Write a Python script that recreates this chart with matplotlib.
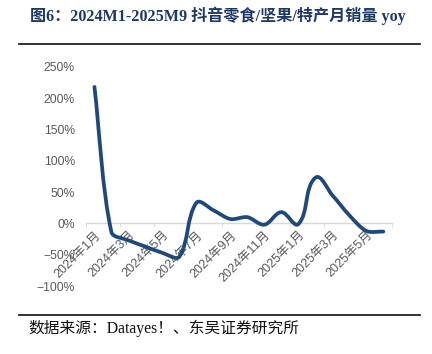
import numpy as np
import matplotlib.pyplot as plt
from matplotlib.path import Path
from matplotlib.patches import PathPatch
from matplotlib.lines import Line2D

# 数据：抖音零食/坚果/特产月销量同比（%）
months = ['2024年1月', '2024年2月', '2024年3月', '2024年4月', '2024年5月', '2024年6月',
          '2024年7月', '2024年8月', '2024年9月', '2024年10月', '2024年11月', '2024年12月',
          '2025年1月', '2025年2月', '2025年3月', '2025年4月', '2025年5月', '2025年6月']
yoy = [218, -14, -27, -37, -47, -53, 33, 21, 7, 10, -2, 18, -1, 73, 45, 13, -12, -13]
yticks = [-100, -50, 0, 50, 100, 150, 200, 250]

cjk = ['Liberation Sans', 'Noto Sans CJK SC']
line_color = '#1F497D'
label_color = '#595959'

fig = plt.figure(figsize=(4.32, 3.54), dpi=100)
ax = fig.add_axes([0.199, 0.192, 0.708, 0.619])
ax.set_xlim(-0.5, len(yoy) - 0.5)
ax.set_ylim(-100, 250)

# 平滑曲线（近似 Excel 平滑线）：在像素空间按相邻线段长度确定贝塞尔控制点
pts = ax.transData.transform(np.column_stack([np.arange(len(yoy)), yoy]))
n = len(pts)
k = 0.3
verts = [pts[0]]
codes = [Path.MOVETO]
for i in range(n - 1):
    p1, p2 = pts[i], pts[i + 1]
    seg = np.linalg.norm(p2 - p1)
    d1 = pts[min(i + 1, n - 1)] - pts[max(i - 1, 0)]
    d2 = pts[min(i + 2, n - 1)] - pts[i]
    c1 = p1 + d1 / np.linalg.norm(d1) * seg * k
    c2 = p2 - d2 / np.linalg.norm(d2) * seg * k
    verts += [c1, c2, p2]
    codes += [Path.CURVE4] * 3
verts = ax.transData.inverted().transform(np.array(verts))
ax.add_patch(PathPatch(Path(verts, codes), facecolor='none', edgecolor=line_color,
                       linewidth=2.7, capstyle='round', joinstyle='round', zorder=3))

# 坐标轴样式
for s in ['top', 'right', 'left']:
    ax.spines[s].set_visible(False)
ax.spines['bottom'].set_position(('data', 0))
ax.spines['bottom'].set_color('#D9D9D9')
ax.spines['bottom'].set_linewidth(1.0)

ax.set_xticks(np.arange(-0.5, len(yoy), 2), minor=True)
ax.set_xticks(np.arange(len(yoy))[::2])
ax.set_xticklabels(months[::2], rotation=45, ha='right', va='top',
                   rotation_mode='anchor', color=label_color, fontsize=9, family=cjk)
ax.tick_params(axis='x', which='major', length=0, pad=4)
ax.tick_params(axis='x', which='minor', length=3, color='#D9D9D9', direction='out')

ax.set_yticks(yticks)
ax.set_yticklabels([f'{v}%'.replace('-', '\u2212') for v in yticks],
                   color=label_color, fontsize=8.7, family='Liberation Sans')
ax.tick_params(axis='y', length=0, pad=8)

# 标题与上下分隔线
fig.text(0.07, 0.955, '图6：2024M1-2025M9 抖音零食/坚果/特产月销量 yoy',
         fontsize=11.6, fontweight='bold', color='#1F3864',
         family=['Liberation Serif', 'Noto Sans CJK SC'], va='center', ha='left')
fig.add_artist(Line2D([0.044, 0.972], [0.877, 0.877], color='#222222', linewidth=1.3))
fig.add_artist(Line2D([0.044, 0.972], [0.110, 0.110], color='#222222', linewidth=1.3))
fig.text(0.065, 0.073, '数据来源：Datayes！、东吴证券研究所', fontsize=11.3, color='#111111',
         family=['Liberation Serif', 'Noto Sans CJK SC'], va='center', ha='left')

fig.savefig('out.png', dpi=100)
